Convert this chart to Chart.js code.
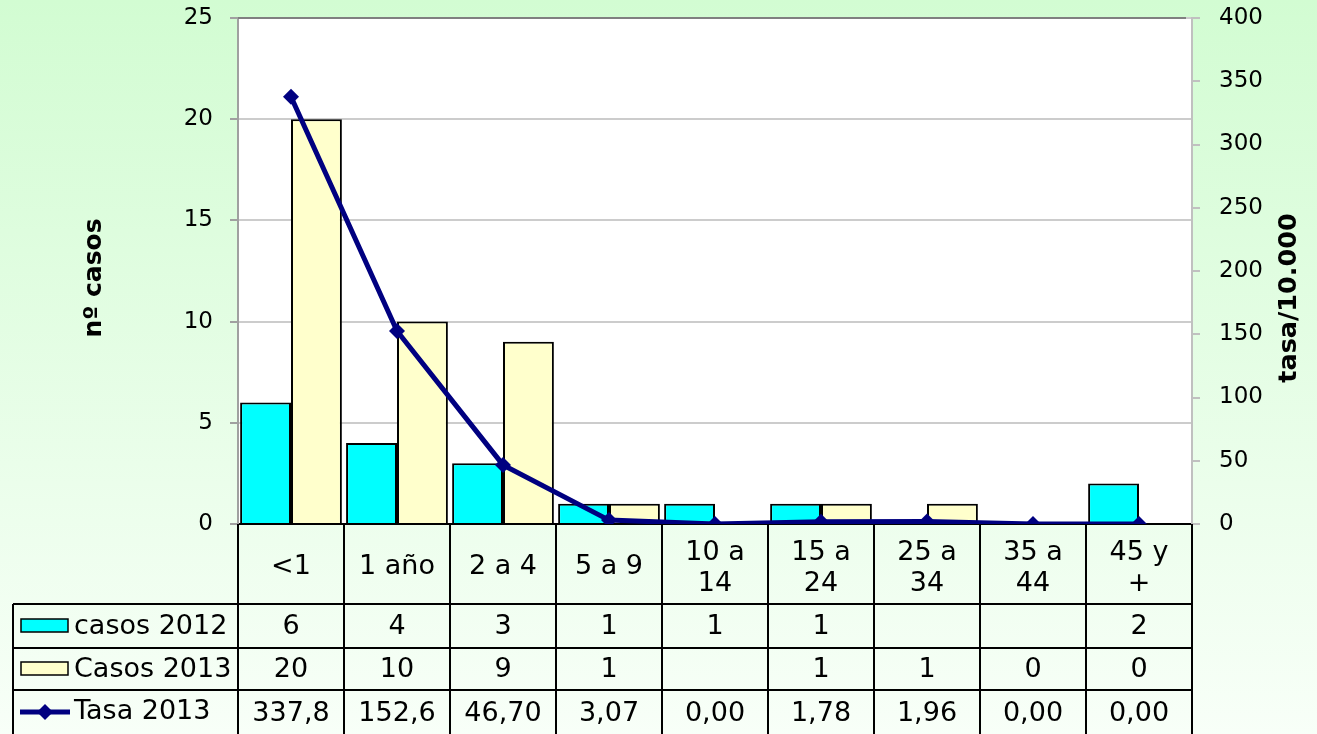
<!DOCTYPE html>
<html>
<head>
<meta charset="utf-8">
<script src="https://cdn.jsdelivr.net/npm/chart.js@4"></script>
<style>
html, body { margin: 0; padding: 0; overflow: hidden; }
</style>
</head>
<body>
<canvas id="myChart" width="1317" height="734"></canvas>
<script>
// datos
const grupos = [["<1"], ["1 año"], ["2 a 4"], ["5 a 9"], ["10 a", "14"], ["15 a", "24"], ["25 a", "34"], ["35 a", "44"], ["45 y", "+"]];
const casos2012 = [6, 4, 3, 1, 1, 1, null, null, 2];
const casos2013 = [20, 10, 9, 1, null, 1, 1, 0, 0];
const tasa2013 = [337.8, 152.6, 46.70, 3.07, 0, 1.78, 1.96, 0, 0];
const tasaTexto = ["337,8", "152,6", "46,70", "3,07", "0,00", "1,78", "1,96", "0,00", "0,00"];
const nombres = ["casos 2012", "Casos 2013", "Tasa 2013"];

const fuente = "'DejaVu Sans', Verdana, sans-serif";
Chart.defaults.font.family = fuente;
Chart.defaults.color = '#000';

const tabla = {
    id: 'tabla',
    beforeDraw(chart) {
        const { ctx, chartArea: a, width, height } = chart;
        ctx.save();
        const g = ctx.createLinearGradient(0, 0, 0, height);
        g.addColorStop(0, '#d2fcd2');
        g.addColorStop(1, '#f8fff8');
        ctx.fillStyle = g;
        ctx.fillRect(0, 0, width, height);
        ctx.fillStyle = '#fff';
        ctx.fillRect(a.left, a.top, a.right - a.left, a.bottom - a.top);
        ctx.restore();
    },
    afterDraw(chart) {
        const { ctx, chartArea: a, height } = chart;
        const x = chart.scales.x;
        const w = x.getPixelForValue(1) - x.getPixelForValue(0);
        const top = a.bottom;
        const filas = [top, top + 80, top + 124, top + 166];
        const izq = 13;
        ctx.save();

        // borde superior del area
        ctx.strokeStyle = '#808080';
        ctx.lineWidth = 2;
        ctx.beginPath();
        ctx.moveTo(a.left, a.top);
        ctx.lineTo(a.right - 6, a.top);
        ctx.stroke();

        // lineas de la tabla
        ctx.strokeStyle = '#000';
        ctx.lineWidth = 2;
        ctx.beginPath();
        for (let i = 0; i < grupos.length; i++) {
            const px = Math.round(x.getPixelForValue(i) - w / 2);
            ctx.moveTo(px, top);
            ctx.lineTo(px, height);
        }
        const ult = Math.round(x.getPixelForValue(grupos.length - 1) + w / 2);
        ctx.moveTo(ult, top);
        ctx.lineTo(ult, height);
        for (let f = 1; f < filas.length; f++) {
            ctx.moveTo(izq, filas[f]);
            ctx.lineTo(ult, filas[f]);
        }
        ctx.moveTo(izq, filas[1]);
        ctx.lineTo(izq, height);
        ctx.stroke();

        // textos
        ctx.fillStyle = '#000';
        ctx.font = '27px ' + fuente;
        ctx.textAlign = 'center';
        ctx.textBaseline = 'middle';
        grupos.forEach((g, i) => {
            const cx = x.getPixelForValue(i);
            if (g.length == 1) {
                ctx.fillText(g[0], cx, top + 43);
            } else {
                ctx.fillText(g[0], cx, top + 29);
                ctx.fillText(g[1], cx, top + 60);
            }
            if (casos2012[i] != null) ctx.fillText(String(casos2012[i]), cx, filas[1] + 23);
            if (casos2013[i] != null) ctx.fillText(String(casos2013[i]), cx, filas[2] + 22);
            ctx.fillText(tasaTexto[i], cx, filas[3] + 24);
        });

        // leyenda dentro de la tabla
        ctx.textAlign = 'left';
        ctx.lineWidth = 1.5;
        ctx.fillStyle = '#00ffff';
        ctx.fillRect(21, filas[1] + 15, 47, 13);
        ctx.strokeRect(21, filas[1] + 15, 47, 13);
        ctx.fillStyle = '#ffffcc';
        ctx.fillRect(21, filas[2] + 14, 47, 13);
        ctx.strokeRect(21, filas[2] + 14, 47, 13);
        ctx.strokeStyle = '#000080';
        ctx.lineWidth = 5;
        ctx.beginPath();
        ctx.moveTo(20, filas[3] + 22);
        ctx.lineTo(70, filas[3] + 22);
        ctx.stroke();
        ctx.fillStyle = '#000080';
        ctx.beginPath();
        ctx.moveTo(45, filas[3] + 14);
        ctx.lineTo(53, filas[3] + 22);
        ctx.lineTo(45, filas[3] + 30);
        ctx.lineTo(37, filas[3] + 22);
        ctx.closePath();
        ctx.fill();
        ctx.fillStyle = '#000';
        ctx.fillText(nombres[0], 74, filas[1] + 23);
        ctx.fillText(nombres[1], 74, filas[2] + 22);
        ctx.fillText(nombres[2], 74, filas[3] + 22);

        // titulos de ejes
        ctx.textAlign = 'center';
        ctx.font = 'bold 25px ' + fuente;
        ctx.save();
        ctx.translate(94, 278);
        ctx.rotate(-Math.PI / 2);
        ctx.fillText('nº casos', 0, 0);
        ctx.restore();
        ctx.font = 'bold 25.5px ' + fuente;
        ctx.save();
        ctx.translate(1289, 298);
        ctx.rotate(-Math.PI / 2);
        ctx.fillText('tasa/10.000', 0, 0);
        ctx.restore();

        ctx.restore();
    }
};

new Chart('myChart', {
    type: 'bar',
    data: {
        labels: grupos,
        datasets: [
            {
                label: nombres[0],
                data: casos2012,
                backgroundColor: '#00ffff',
                borderColor: '#000',
                borderWidth: 2,
                yAxisID: 'y',
                order: 2
            },
            {
                label: nombres[1],
                data: casos2013,
                backgroundColor: '#ffffcc',
                borderColor: '#000',
                borderWidth: 2,
                yAxisID: 'y',
                order: 2
            },
            {
                type: 'line',
                label: nombres[2],
                data: tasa2013,
                borderColor: '#000080',
                backgroundColor: '#000080',
                borderWidth: 5,
                pointStyle: 'rectRot',
                pointRadius: 8,
                pointBorderWidth: 0,
                pointBackgroundColor: '#000080',
                tension: 0,
                yAxisID: 'y1',
                order: 0
            }
        ]
    },
    options: {
        responsive: false,
        animation: false,
        layout: { padding: { top: 18, left: 0, right: 0, bottom: 0 } },
        datasets: { bar: { barPercentage: 1, categoryPercentage: 0.96 } },
        plugins: { legend: { display: false }, tooltip: { enabled: false } },
        scales: {
            x: {
                ticks: { display: false },
                grid: { display: false },
                border: { color: '#000', width: 2 },
                afterFit: (s) => { s.height = 210; }
            },
            y: {
                position: 'left',
                min: 0,
                max: 25,
                ticks: { stepSize: 5, padding: 17, font: { size: 23 } },
                grid: { color: '#cccccc', lineWidth: 2, tickLength: 8, tickColor: '#a0a0a0' },
                border: { color: '#a0a0a0', width: 2 },
                afterFit: (s) => { s.width = 238; s.paddingTop = 0; s.paddingBottom = 0; }
            },
            y1: {
                position: 'right',
                min: 0,
                max: 400,
                ticks: { stepSize: 50, padding: 19, font: { size: 23 } },
                grid: { drawOnChartArea: false, tickLength: 8, color: '#c0c0c0', lineWidth: 2 },
                border: { color: '#c0c0c0', width: 2 },
                afterFit: (s) => { s.width = 125; s.paddingTop = 0; s.paddingBottom = 0; }
            }
        }
    },
    plugins: [tabla]
});
</script>
</body>
</html>
